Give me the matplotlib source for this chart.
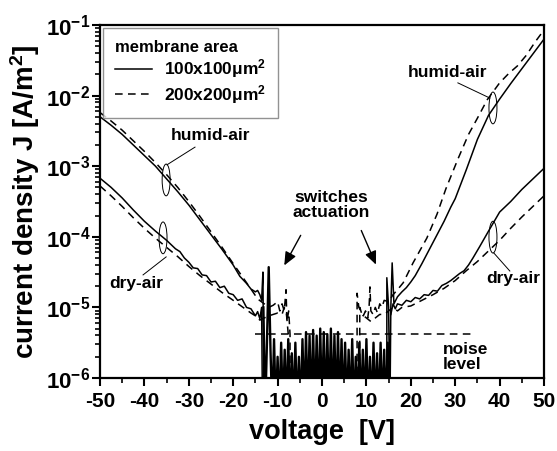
import numpy as np
import matplotlib.pyplot as plt
from matplotlib.patches import Ellipse
from matplotlib.ticker import FixedLocator, LogLocator, NullFormatter, MultipleLocator

plt.rcParams['font.family'] = ['Liberation Sans', 'DejaVu Sans']
plt.rcParams['font.weight'] = 'bold'
plt.rcParams['mathtext.fontset'] = 'custom'
plt.rcParams['mathtext.rm'] = 'Liberation Sans:bold'
plt.rcParams['mathtext.it'] = 'Liberation Sans:bold'
plt.rcParams['mathtext.bf'] = 'Liberation Sans:bold'
plt.rcParams['mathtext.default'] = 'rm'

# données : tension (V) et log10(J)
# membrane 100x100 um2 (trait plein)
hum100_l_v = [-50, -47.5, -45, -42.5, -40, -37.5, -35, -32.5, -30, -27.5, -25, -22.5,
              -20, -18.5, -17, -16, -15, -14.5, -14, -13.6, -13.3, -13.1]
hum100_l_j = [-2.30, -2.42, -2.55, -2.70, -2.85, -3.00, -3.18, -3.36, -3.55, -3.76, -3.97, -4.18,
              -4.40, -4.56, -4.66, -4.74, -4.78, -4.76, -4.82, -4.90, -4.50, -6.5]

dry100_l_v = [-50, -47.5, -45, -42.5, -40, -37.5, -35, -33, -32, -31, -30, -29, -28, -27, -26,
              -25, -24, -23, -22, -21, -20, -19, -18, -17, -16, -15, -14.5, -14, -13.6, -13.4]
dry100_l_j = [-3.17, -3.30, -3.45, -3.62, -3.78, -3.92, -4.05, -4.17, -4.21, -4.30, -4.36, -4.44,
              -4.45, -4.54, -4.55, -4.64, -4.63, -4.72, -4.70, -4.80, -4.82, -4.90, -4.88,
              -5.00, -5.02, -5.12, -5.06, -5.16, -5.00, -6.5]

hum100_r_v = [14.6, 14.6, 15.0, 15.3, 15.5, 15.8, 16.2, 17, 18, 19, 20, 21, 22.5, 24, 25, 26,
              27.5, 29, 30, 32.5, 35, 37.5, 40, 42.5, 45, 47.5, 50]
hum100_r_j = [-6.5, -4.58, -5.0, -6.5, -5.0, -4.37, -4.95, -4.85, -4.78, -4.72, -4.64, -4.55,
              -4.38, -4.20, -4.08, -3.96, -3.78, -3.58, -3.46, -3.05, -2.62, -2.28, -2.05,
              -1.83, -1.62, -1.41, -1.20]

dry100_r_v = [15.5, 16, 16.5, 17, 18, 19, 20, 21, 22, 23, 24, 25, 26, 27, 28, 29, 30, 31, 32,
              33, 34, 35.5, 37.5, 40, 42.5, 45, 47.5, 50]
dry100_r_j = [-5.10, -4.95, -5.02, -4.95, -4.97, -4.90, -4.92, -4.86, -4.88, -4.82, -4.83,
              -4.76, -4.77, -4.69, -4.66, -4.62, -4.57, -4.52, -4.48, -4.40, -4.30, -4.14,
              -3.92, -3.65, -3.50, -3.33, -3.18, -3.03]

# bruit de la mesure (trait plein) entre -13 V et 15 V
noise_v = np.linspace(-13.2, 15.2, 72)
noise_j = [-5.0, -6.5, -5.5, -4.43, -5.6, -6.5, -5.45, -6.5, -5.7, -6.5, -5.5, -6.5,
           -5.6, -6.5, -5.45, -6.5, -5.65, -6.5, -5.5, -6.5, -5.7, -6.5, -5.45, -6.5,
           -5.35, -6.5, -5.4, -6.5, -5.32, -6.5, -5.4, -6.5, -5.3, -6.5, -5.35, -6.5,
           -5.38, -6.5, -5.3, -6.5, -5.4, -6.5, -5.35, -6.5, -5.45, -6.5, -5.5, -6.5,
           -5.6, -6.5, -5.45, -6.5, -5.7, -6.5, -5.5, -6.5, -5.6, -6.5, -5.45, -6.5,
           -5.7, -6.5, -5.5, -6.5, -5.65, -6.5, -5.5, -6.5, -5.6, -6.5, -5.5, -6.5]

# membrane 200x200 um2 (tirets)
hum200_l_v = [-50, -47.5, -45, -42.5, -40, -37.5, -35, -32.5, -30, -27.5, -25, -22.5, -20,
              -18, -16, -14.5, -13, -12, -11, -10, -9.5, -9, -8.5, -8.1, -7.9, -7.5, -7.2, -7.2]
hum200_l_j = [-2.24, -2.36, -2.49, -2.64, -2.79, -2.95, -3.12, -3.30, -3.50, -3.71, -3.93,
              -4.15, -4.38, -4.56, -4.74, -4.88, -4.95, -5.00, -4.97, -4.92, -5.05, -4.95,
              -5.05, -4.75, -5.20, -5.05, -5.38, -6.5]

dry200_l_v = [-50, -47.5, -45, -42.5, -40, -37.5, -35, -32.5, -30, -27.5, -25, -22.5, -20,
              -18, -16, -15, -14, -13, -12, -11, -10, -9, -8.5, -8, -7.6, -7.6]
dry200_l_j = [-3.28, -3.42, -3.57, -3.73, -3.88, -4.02, -4.15, -4.28, -4.42, -4.55, -4.67,
              -4.79, -4.90, -4.99, -5.08, -5.12, -5.18, -5.15, -5.12, -5.10, -5.08, -5.10,
              -5.00, -5.10, -5.38, -6.5]

hum200_r_v = [7.9, 7.9, 8.3, 8.8, 9.3, 9.8, 10.3, 10.6, 10.8, 11.0, 11.5, 12, 12.5, 13, 13.5,
              14, 15, 16, 17, 18.3, 20.5, 23.6, 25.9, 27.9, 30.6, 33, 35, 37.2, 40, 42, 44,
              46, 48, 50]
hum200_r_j = [-6.5, -4.80, -5.00, -5.05, -5.12, -5.05, -5.15, -5.00, -4.71, -5.05, -5.10,
              -5.00, -5.08, -4.95, -5.00, -4.90, -4.92, -4.82, -4.75, -4.65, -4.37, -4.02,
              -3.68, -3.32, -2.90, -2.55, -2.32, -2.06, -1.82, -1.69, -1.58, -1.43, -1.24,
              -1.07]

dry200_r_v = [8.5, 8.5, 9, 10, 11, 12, 13, 14, 15, 16, 17, 18, 20, 22.5, 25, 27.5, 30, 32.5,
              35, 37.5, 40, 42.5, 45, 47.5, 50]
dry200_r_j = [-6.5, -5.00, -5.10, -5.15, -5.20, -5.15, -5.10, -5.10, -5.05, -5.00, -5.05,
              -5.00, -4.98, -4.90, -4.82, -4.73, -4.62, -4.48, -4.35, -4.20, -4.05, -3.88,
              -3.72, -3.57, -3.42]

# niveau de bruit
noise_level_v = [-15, 34]
noise_level_j = [4.2e-6, 4.2e-6]

x_ticks = [-50, -40, -30, -20, -10, 0, 10, 20, 30, 40, 50]
y_ticks = [1e-6, 1e-5, 1e-4, 1e-3, 1e-2, 1e-1]

fig = plt.figure(figsize=(5.57, 4.51), dpi=100)
ax = fig.add_axes([0.1795, 0.1619, 0.7972, 0.7827])

tirets = (0, (5, 3.5))
lw = 1.1

# traits pleins
ax.plot(hum100_l_v, 10 ** np.array(hum100_l_j), 'k-', lw=lw, label='100x100μm$^2$')
for v, j in [(dry100_l_v, dry100_l_j), (hum100_r_v, hum100_r_j), (dry100_r_v, dry100_r_j)]:
    ax.plot(v, 10 ** np.array(j), 'k-', lw=lw)
ax.plot(noise_v, 10 ** np.array(noise_j), 'k-', lw=1.7)

# tirets
ax.plot(hum200_l_v, 10 ** np.array(hum200_l_j), color='k', ls=tirets, lw=lw,
        label='200x200μm$^2$')
for v, j in [(dry200_l_v, dry200_l_j), (hum200_r_v, hum200_r_j), (dry200_r_v, dry200_r_j)]:
    ax.plot(v, 10 ** np.array(j), color='k', ls=tirets, lw=lw)
ax.plot(noise_level_v, noise_level_j, color='k', ls=tirets, lw=lw)

ax.set_yscale('log')
ax.set_xlim(-50, 50)
ax.set_ylim(1e-6, 1e-1)
ax.xaxis.set_major_locator(FixedLocator(x_ticks))
ax.xaxis.set_minor_locator(MultipleLocator(5))
ax.yaxis.set_major_locator(FixedLocator(y_ticks))
ax.yaxis.set_minor_locator(LogLocator(base=10, subs=np.arange(2, 10)))
ax.yaxis.set_minor_formatter(NullFormatter())
ax.set_xticklabels([str(t) for t in x_ticks])
ax.set_yticklabels([r'$10^{%d}$' % int(np.log10(t)) for t in y_ticks])

ax.tick_params(which='major', direction='out', length=6, width=1.5, labelsize=15, pad=4)
ax.tick_params(which='minor', direction='out', length=3.5, width=1.2)
ax.tick_params(axis='y', which='major', pad=1, labelsize=16)
for s in ax.spines.values():
    s.set_linewidth(1.6)

ax.set_xlabel('voltage  [V]', fontsize=19.5, fontweight='bold', labelpad=6)
ax.set_ylabel('current density J [A/m$^2$]', fontsize=20, fontweight='bold', labelpad=3)

# légende
leg = ax.legend(loc='upper left', bbox_to_anchor=(0.007, 0.992), borderaxespad=0,
                title='membrane area', alignment='left', fontsize=12.5, title_fontsize=12,
                frameon=True, fancybox=False, edgecolor='#777777', handlelength=2.1,
                handletextpad=0.7, labelspacing=0.15, borderpad=0.7)
leg.get_frame().set_linewidth(1.0)
leg.get_title().set_fontweight('bold')

# annotations
kw = dict(transform=ax.transAxes, fontsize=12.5, fontweight='bold')
ax.text(0.248, 0.686, 'humid-air', ha='center', va='center', **kw)
ax.text(0.081, 0.269, 'dry-air', ha='center', va='center', **kw)
ax.text(0.782, 0.864, 'humid-air', ha='center', va='center', **kw)
ax.text(0.930, 0.283, 'dry-air', ha='center', va='center', **kw)
ax.text(0.520, 0.490, 'switches\nactuation', ha='center', va='center', linespacing=1.0, **kw)
ax.text(0.773, 0.059, 'noise\nlevel', ha='left', va='center', linespacing=1.05, **kw)

for cx, cy in [(0.149, 0.561), (0.142, 0.397), (0.885, 0.765), (0.885, 0.399)]:
    ax.add_patch(Ellipse((cx, cy), 0.018, 0.09, transform=ax.transAxes,
                         fill=False, ec='k', lw=0.7))
for (x0, y0), (x1, y1) in [((0.214, 0.654), (0.151, 0.604)),
                           ((0.149, 0.343), (0.097, 0.292)),
                           ((0.806, 0.836), (0.878, 0.793)),
                           ((0.887, 0.354), (0.923, 0.303))]:
    ax.plot([x0, x1], [y0, y1], color='k', lw=0.7, transform=ax.transAxes)

for (x0, y0), (x1, y1) in [((0.455, 0.411), (0.412, 0.312)),
                           ((0.586, 0.425), (0.624, 0.314))]:
    ax.annotate('', xy=(x1, y1), xytext=(x0, y0), xycoords='axes fraction',
                arrowprops=dict(arrowstyle='-|>,head_length=0.8,head_width=0.35',
                                color='k', lw=1.0))

fig.savefig('out.png', dpi=100)
